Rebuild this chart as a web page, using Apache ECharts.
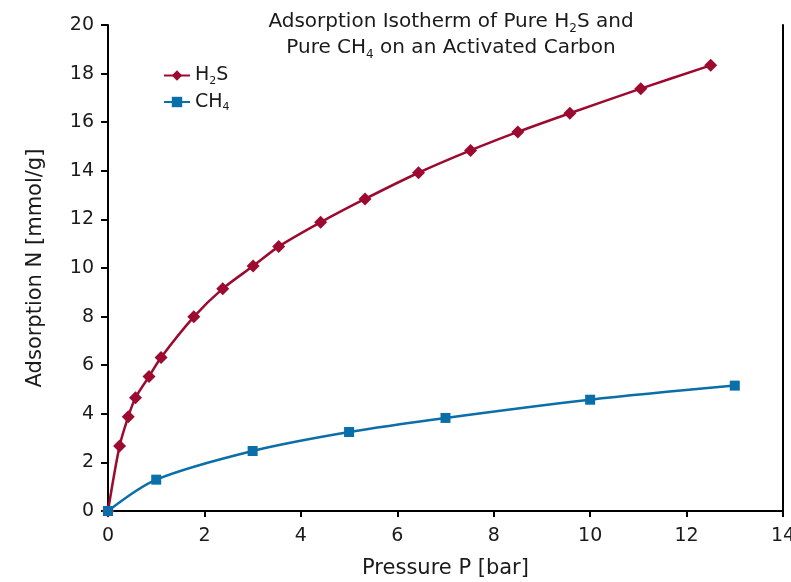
<!DOCTYPE html>
<html>
<head>
<meta charset="utf-8">
<script src="https://cdn.jsdelivr.net/npm/echarts@6/dist/echarts.min.js"></script>
<style>html,body{margin:0;padding:0;background:#fff;overflow:hidden}#c{width:791px;height:582px}</style>
</head>
<body>
<div id="c"></div>
<script>
const h2sP = [0, 0.24, 0.42, 0.57, 0.85, 1.1, 1.78, 2.38, 3.01, 3.54, 4.41, 5.33, 6.44, 7.52, 8.5, 9.58, 11.05, 12.5];
const h2sN = [0, 2.67, 3.88, 4.66, 5.53, 6.32, 7.99, 9.15, 10.08, 10.88, 11.88, 12.84, 13.92, 14.84, 15.6, 16.37, 17.38, 18.34];
const ch4P = [0, 1, 3, 5, 7, 10, 13];
const ch4N = [0, 1.29, 2.47, 3.25, 3.83, 4.58, 5.16];
const seriesNames = ['H2S', 'CH4'];
const legendRich = { 'H2S': '{n|H}{s|2}{n|S}', 'CH4': '{n|CH}{s|4}' };
const titleText = '{n|Adsorption Isotherm of Pure H}{s|2}{n|S and}\n{n|Pure CH}{s|4}{n| on an Activated Carbon}';
const xTitle = 'Pressure P [bar]';
const yTitle = 'Adsorption N [mmol/g]';

const FONT = 'DejaVu Sans';
const TXT = '#1a1a1a';
const chart = echarts.init(document.getElementById('c'));
chart.setOption({
  animation: false,
  textStyle: { fontFamily: FONT },
  title: {
    text: titleText,
    left: 446, top: 4, textAlign: 'center',
    textStyle: {
      fontWeight: 'normal',
      rich: {
        n: { fontFamily: FONT, fontSize: 20, fontWeight: 'normal', color: TXT, lineHeight: 26, verticalAlign: 'middle' },
        s: { fontFamily: FONT, fontSize: 12, fontWeight: 'normal', color: TXT, lineHeight: 12, verticalAlign: 'bottom' }
      }
    }
  },
  legend: {
    orient: 'vertical', left: 158, top: 61, itemWidth: 26, itemHeight: 13, itemGap: 6,
    data: seriesNames,
    formatter: n => legendRich[n],
    textStyle: {
      rich: {
        n: { fontFamily: FONT, fontSize: 19, color: TXT, lineHeight: 22, verticalAlign: 'middle' },
        s: { fontFamily: FONT, fontSize: 11, color: TXT, lineHeight: 10, verticalAlign: 'bottom' }
      }
    }
  },
  grid: { left: 108, right: 8, top: 25, bottom: 71, containLabel: false, outerBoundsMode: 'none' },
  xAxis: {
    type: 'value', min: 0, max: 14, interval: 2,
    name: xTitle, nameLocation: 'middle', nameGap: 47,
    nameTextStyle: { fontFamily: FONT, fontSize: 21, color: TXT },
    axisLine: { show: true, onZero: false, lineStyle: { color: '#000', width: 2 } },
    axisTick: { show: true, length: 6, lineStyle: { color: '#000', width: 2 } },
    axisLabel: { fontFamily: FONT, fontSize: 19, color: TXT, margin: 16 },
    splitLine: { show: false }
  },
  yAxis: [{
    type: 'value', min: 0, max: 20, interval: 2,
    name: yTitle, nameLocation: 'middle', nameGap: 62, nameRotate: 90,
    nameTextStyle: { fontFamily: FONT, fontSize: 21, color: TXT },
    axisLine: { show: true, onZero: false, lineStyle: { color: '#000', width: 2 } },
    axisTick: { show: true, length: 7, lineStyle: { color: '#000', width: 2 } },
    axisLabel: { fontFamily: FONT, fontSize: 19, color: TXT, margin: 14 },
    splitLine: { show: false }
  }, {
    type: 'value', min: 0, max: 20, interval: 2, position: 'right',
    axisLine: { show: true, onZero: false, lineStyle: { color: '#000', width: 2 } },
    axisTick: { show: false }, axisLabel: { show: false }, splitLine: { show: false }
  }],
  series: [{
    name: 'H2S', type: 'line', smooth: 0.3,
    data: h2sP.map((p, i) => [p, h2sN[i]]),
    symbol: 'diamond', symbolSize: 13,
    itemStyle: { color: '#9c0a30' },
    lineStyle: { color: '#9c0a30', width: 2.5 },
    z: 2
  }, {
    name: 'CH4', type: 'line', smooth: 0.3,
    data: ch4P.map((p, i) => [p, ch4N[i]]),
    symbol: 'rect', symbolSize: 10,
    itemStyle: { color: '#0a6ea9' },
    lineStyle: { color: '#0a6ea9', width: 2.5 },
    z: 3
  }]
});
</script>
</body>
</html>
